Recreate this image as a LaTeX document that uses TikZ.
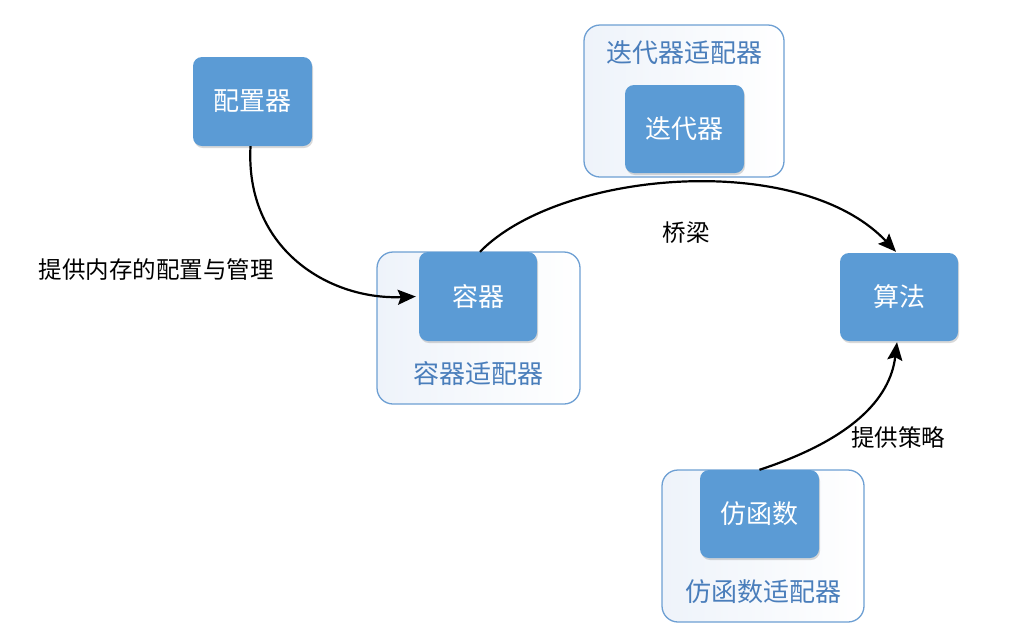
\documentclass[tikz,border=0pt]{standalone}
\usepackage{fontspec}
\setmainfont{Noto Sans CJK SC}
\usetikzlibrary{arrows.meta,shadows,calc}
\definecolor{boxblue}{HTML}{5B9BD5}
\definecolor{edgeblue}{HTML}{6D9FD3}
\definecolor{lblblue}{HTML}{4A7EBB}
\definecolor{paleblue}{HTML}{EEF3FA}
\tikzset{
  core/.style={draw=none, fill=boxblue, rounded corners=9pt, text=white,
    font=\fontsize{26}{30}\selectfont, inner sep=0pt,
    drop shadow={shadow xshift=1pt, shadow yshift=-2pt, opacity=0.25, fill=black!60}},
  wrap/.style={draw=edgeblue, line width=1.3pt, left color=paleblue, right color=white, rounded corners=16pt, inner sep=0pt},
  wraplbl/.style={text=lblblue, font=\fontsize{26}{30}\selectfont},
  note/.style={text=black, font=\fontsize{23.5}{28}\selectfont},
  conn/.style={line width=2.2pt, -{Stealth[length=18pt,width=15pt,inset=3pt]}}
}
\begin{document}
\begin{tikzpicture}[x=1pt,y=-1pt]
\useasboundingbox (0,0) rectangle (1031,630);
% wrappers
\node[wrap, minimum width=203pt, minimum height=152pt] (cwrap) at (478.5,328) {};
\node[wrap, minimum width=200pt, minimum height=152pt] (iwrap) at (684,101) {};
\node[wrap, minimum width=202pt, minimum height=152pt] (fwrap) at (763,546) {};
\node[wraplbl] (cwl) at (478.5,374) {容器适配器};
\node[wraplbl] (iwl) at (684,53) {迭代器适配器};
\node[wraplbl] (fwl) at (763,592) {仿函数适配器};
% core boxes
\node[core, minimum width=119pt, minimum height=89pt] (alloc) at (252.5,101.5) {配置器};
\node[core, minimum width=118pt, minimum height=89pt] (cont) at (478,296.5) {容器};
\node[core, minimum width=119pt, minimum height=88pt] (iter) at (684.5,129) {迭代器};
\node[core, minimum width=118pt, minimum height=88pt] (algo) at (899,297) {算法};
\node[core, minimum width=119pt, minimum height=88pt] (func) at (759.5,514) {仿函数};
% labels
\node[note] (l1) at (156,270) {提供内存的配置与管理};
\node[note] (l2) at (686,233) {桥梁};
\node[note] (l3) at (898,438) {提供策略};
% connectors
\draw[conn] ($(alloc.south)+(-2,0)$) .. controls (245,250) and (330,300) .. ($(cont.west)+(-3,0)$);
\draw[conn] ($(cont.north)+(2,0)$) .. controls (560,170) and (800,150) .. ($(algo.north)+(-3,-1)$);
\draw[conn] ($(func.north)+(0,0)$) .. controls (850,440) and (890,400) .. ($(algo.south)+(-2,1)$);
\end{tikzpicture}
\end{document}
